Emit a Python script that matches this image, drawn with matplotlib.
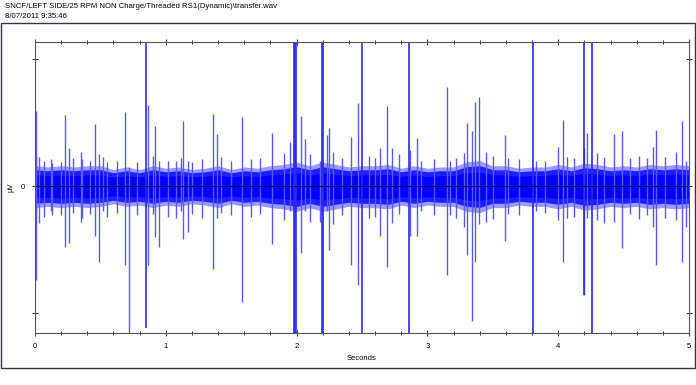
import numpy as np
import matplotlib
matplotlib.use("Agg")
from matplotlib import pyplot as plt
from matplotlib.patches import Rectangle

title_line1 = "SNCF/LEFT SIDE/25 RPM NON Charge/Threaded RS1(Dynamic)\\transfer.wav"
title_line2 = "8/07/2011 9:35:46"

# noise band envelope, sampled every 0.1 s (uV, normalised)
env_t = [i / 10 for i in range(51)]
env_up = [0.16, 0.15, 0.16, 0.15, 0.16, 0.16, 0.13, 0.15, 0.13, 0.16,
          0.14, 0.15, 0.13, 0.14, 0.16, 0.13, 0.15, 0.14, 0.16, 0.17,
          0.19, 0.16, 0.19, 0.17, 0.15, 0.16, 0.16, 0.17, 0.14, 0.16,
          0.14, 0.15, 0.15, 0.19, 0.20, 0.16, 0.16, 0.14, 0.15, 0.15,
          0.17, 0.15, 0.18, 0.17, 0.15, 0.16, 0.15, 0.17, 0.16, 0.17, 0.16]
env_lo = [-0.17, -0.16, -0.17, -0.16, -0.17, -0.16, -0.14, -0.16, -0.15, -0.17,
          -0.15, -0.16, -0.14, -0.15, -0.17, -0.14, -0.16, -0.15, -0.17, -0.18,
          -0.20, -0.17, -0.20, -0.18, -0.16, -0.17, -0.17, -0.18, -0.15, -0.17,
          -0.15, -0.16, -0.16, -0.20, -0.21, -0.17, -0.17, -0.15, -0.16, -0.16,
          -0.18, -0.16, -0.19, -0.18, -0.16, -0.17, -0.16, -0.18, -0.17, -0.18, -0.17]

# small bursts poking out of the noise band
small_t = [0.01, 0.07, 0.12, 0.2, 0.29, 0.36, 0.42, 0.52, 0.55, 0.63,
           0.78, 0.9, 1.02, 1.12, 1.2, 1.28, 1.42, 1.5, 1.65, 1.72,
           1.9, 2.1, 2.28, 2.35, 2.55, 2.6, 2.78, 3.05, 3.22, 3.28,
           3.45, 3.5, 3.62, 3.7, 3.9, 4.07, 4.12, 4.3, 4.35, 4.55,
           4.62, 4.68, 4.82, 4.9]
small_up = [0.24, 0.2, 0.21, 0.19, 0.22, 0.21, 0.2, 0.23, 0.19, 0.2,
            0.19, 0.24, 0.2, 0.22, 0.19, 0.21, 0.23, 0.2, 0.21, 0.22,
            0.26, 0.25, 0.27, 0.22, 0.24, 0.22, 0.25, 0.21, 0.22, 0.26,
            0.27, 0.24, 0.22, 0.21, 0.2, 0.23, 0.22, 0.26, 0.23, 0.22,
            0.24, 0.22, 0.23, 0.27]
small_dn = [-0.22, -0.24, -0.2, -0.23, -0.21, -0.25, -0.22, -0.2, -0.24, -0.21,
            -0.23, -0.22, -0.24, -0.2, -0.22, -0.25, -0.21, -0.23, -0.24, -0.22,
            -0.27, -0.28, -0.3, -0.23, -0.25, -0.24, -0.22, -0.23, -0.25, -0.32,
            -0.28, -0.26, -0.22, -0.23, -0.21, -0.25, -0.24, -0.27, -0.29, -0.22,
            -0.26, -0.23, -0.25, -0.27]

# medium impulses: time (s), positive peak, negative peak
spike_t = [0.005, 0.03, 0.13, 0.23, 0.26, 0.35, 0.46, 0.49, 0.69, 0.72,
           0.864, 0.915, 0.948, 1.078, 1.134, 1.172, 1.358, 1.389, 1.585, 1.81,
           1.95, 2.03, 2.064, 2.18, 2.23, 2.25, 2.414, 2.467, 2.64, 2.69,
           2.727, 2.87, 2.92, 2.95, 3.147, 3.17, 3.305, 3.338, 3.364, 3.394,
           3.593, 3.83, 4.0, 4.034, 4.2, 4.22, 4.427, 4.49, 4.722, 4.747,
           4.948, 4.977]
spike_up = [0.59, 0.23, 0.18, 0.56, 0.30, 0.27, 0.49, 0.25, 0.58, 0.15,
            0.64, 0.47, 0.20, 0.20, 0.51, 0.20, 0.57, 0.41, 0.54, 0.42,
            0.35, 0.55, 0.37, 0.20, 0.40, 0.46, 0.39, 0.65, 0.30, 0.63,
            0.30, 0.28, 0.38, 0.20, 0.78, 0.20, 0.50, 0.43, 0.66, 0.70,
            0.40, 0.20, 0.31, 0.52, 0.30, 0.42, 0.41, 0.43, 0.31, 0.44,
            0.51, 0.20]
spike_dn = [-0.74, -0.29, -0.23, -0.48, -0.45, -0.28, -0.39, -0.60, -0.62, -1.5,
            -0.62, -0.40, -0.48, -0.25, -0.42, -0.36, -0.65, -0.25, -0.91, -0.46,
            -0.20, -0.53, -0.20, -0.28, -0.20, -0.50, -0.62, -0.78, -0.39, -0.64,
            -0.29, -0.39, -0.39, -0.20, -0.70, -0.23, -0.54, -1.06, -0.60, -0.30,
            -0.43, -0.20, -0.27, -0.60, -0.86, -0.25, -0.28, -0.49, -0.32, -0.62,
            -0.60, -0.32]

# clipped impulses (run off the scale), time, positive peak, negative peak
hit_t = [0.85, 1.977, 1.985, 1.993, 2.198, 2.205, 2.497, 2.86, 3.81, 4.2, 4.26]
hit_up = [1.5, 1.5, 1.5, 1.5, 1.5, 1.5, 1.5, 1.5, 1.5, 1.5, 1.5]
hit_dn = [-1.12, -1.5, -1.5, -1.5, -1.5, -1.5, -1.5, -1.5, -1.5, -0.86, -1.5]

x_ticks = [0, 1, 2, 3, 4, 5]
y_ticks = [-1, 0, 1]
y_ticklabels = ["", "0", ""]

plt.rcParams['font.family'] = ['Liberation Sans', 'DejaVu Sans']

fig = plt.figure(figsize=(6.96, 3.85), dpi=100)
ax = fig.add_axes([35 / 696, 52 / 385, 654 / 696, 291 / 385])

blue = "#0000ff"
light = "#5858ff"
env_t = np.array(env_t)
env_up = np.array(env_up)
env_lo = np.array(env_lo)

# fuzzy outer band, then denser core
ax.fill_between(env_t, env_lo, env_up, color=light, alpha=0.6, lw=0)
ax.fill_between(env_t, env_lo * 0.8, env_up * 0.8, color=blue, alpha=0.8, lw=0)
ax.fill_between(env_t, env_lo * 0.55, env_up * 0.55, color=blue, lw=0)

ax.vlines(small_t, small_dn, small_up, color=light, lw=1.0)
ax.vlines(spike_t, 0, spike_up, color=light, lw=1.0)
ax.vlines(spike_t, spike_dn, 0, color=light, lw=1.0)
ax.vlines(hit_t, hit_dn, hit_up, color="#2a2aff", lw=1.2)

ax.axhline(0, color="#000033", lw=0.7)

ax.set_xlim(0, 5)
ax.set_ylim(-1.157, 1.134)
ax.set_xticks(x_ticks)
ax.set_xticklabels([str(v) for v in x_ticks])
ax.set_xticks(np.arange(0, 5.01, 0.2), minor=True)
ax.set_yticks(y_ticks)
ax.set_yticklabels(y_ticklabels)

ax.tick_params(which="both", direction="inout", top=True, right=True,
               labelsize=5.5, color="#333333", width=0.7, pad=5)
ax.tick_params(which="major", length=5)
ax.tick_params(which="minor", length=3.5)
for s in ax.spines.values():
    s.set_color("#555555")
    s.set_linewidth(0.8)

ax.set_xlabel("Seconds", fontsize=5.5, labelpad=3)
ax.set_ylabel("µV", fontsize=5.5, labelpad=4)

fig.text(5 / 696, 1 - 7 / 385, title_line1, fontsize=5.6, va="center", ha="left")
fig.text(5 / 696, 1 - 16 / 385, title_line2, fontsize=5.6, va="center", ha="left")

fig.patches.append(Rectangle((1 / 696, 17 / 385), 694 / 696, 345 / 385,
                             transform=fig.transFigure, fill=False,
                             edgecolor="#333344", lw=1.0))

fig.savefig("out.png", dpi=100)
